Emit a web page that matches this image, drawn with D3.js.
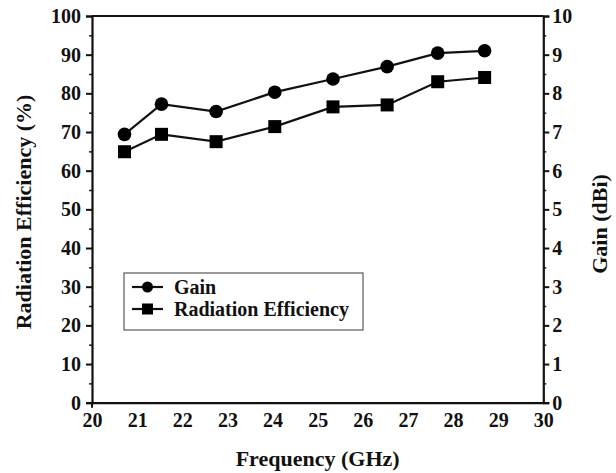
<!DOCTYPE html>
<html>
<head>
<meta charset="utf-8">
<script src="https://cdn.jsdelivr.net/npm/d3@7"></script>
<style>
  html, body { margin: 0; padding: 0; background: #fff; }
  svg { display: block; }
  text { font-family: "Liberation Serif", "Times New Roman", serif; font-weight: bold; fill: #111; }
</style>
</head>
<body>
<svg id="chart" width="616" height="473"></svg>
<script>
// Measured frequencies (GHz)
const frequency = [20.72, 21.54, 22.75, 24.05, 25.34, 26.54, 27.66, 28.70];
// Peak gain (dBi), right axis
const gain = [6.94, 7.72, 7.53, 8.03, 8.37, 8.69, 9.04, 9.10];
// Radiation efficiency (%), left axis
const efficiency = [64.9, 69.4, 67.5, 71.4, 76.5, 77.0, 83.0, 84.1];

const xTicks = [20, 21, 22, 23, 24, 25, 26, 27, 28, 29, 30];
const effTicks = [0, 10, 20, 30, 40, 50, 60, 70, 80, 90, 100];
const gainTicks = [0, 1, 2, 3, 4, 5, 6, 7, 8, 9, 10];

const svg = d3.select("#chart");
const m = { left: 92, right: 543.3, top: 16, bottom: 402.7 };

const x = d3.scaleLinear().domain([20, 30]).range([m.left, m.right]);
const yL = d3.scaleLinear().domain([0, 100]).range([m.bottom, m.top]);
const yR = d3.scaleLinear().domain([0, 10]).range([m.bottom, m.top]);

// Shared styling for tick labels
function styleLabels(g) {
  g.attr("font-family", "Liberation Serif").attr("font-weight", "bold").attr("font-size", 20);
  g.selectAll("text").attr("fill", "#111");
}

// Top frame line
svg.append("line").attr("x1", m.left).attr("x2", m.right).attr("y1", m.top).attr("y2", m.top)
  .attr("stroke", "#111").attr("stroke-width", 2);

// Left axis: minor ticks every 5 %, major every 10 %
const leftMinor = d3.axisLeft(yL).tickValues(d3.range(5, 100, 10)).tickSize(3).tickFormat("");
svg.append("g").attr("transform", `translate(${m.left},0)`).call(leftMinor)
  .call(g => g.select(".domain").remove())
  .call(g => g.selectAll("line").attr("stroke", "#222").attr("stroke-width", 1.5));
const leftAxis = d3.axisLeft(yL).tickValues(effTicks).tickSize(6).tickPadding(5);
svg.append("g").attr("transform", `translate(${m.left},0)`).call(leftAxis)
  .call(g => g.select(".domain").attr("stroke", "#111").attr("stroke-width", 2.2))
  .call(g => g.selectAll(".tick line").attr("stroke", "#111").attr("stroke-width", 2))
  .call(styleLabels);

// Right axis: minor ticks every 0.5 dBi
const rightMinor = d3.axisRight(yR).tickValues(d3.range(0.5, 10, 1)).tickSize(3).tickFormat("");
svg.append("g").attr("transform", `translate(${m.right},0)`).call(rightMinor)
  .call(g => g.select(".domain").remove())
  .call(g => g.selectAll("line").attr("stroke", "#222").attr("stroke-width", 1.5));
const rightAxis = d3.axisRight(yR).tickValues(gainTicks).tickSize(6).tickPadding(3);
svg.append("g").attr("transform", `translate(${m.right},0)`).call(rightAxis)
  .call(g => g.select(".domain").attr("stroke", "#111").attr("stroke-width", 2.2))
  .call(g => g.selectAll(".tick line").attr("stroke", "#111").attr("stroke-width", 2))
  .call(styleLabels);

// Bottom axis
const bottomAxis = d3.axisBottom(x).tickValues(xTicks).tickSize(0).tickPadding(10);
svg.append("g").attr("transform", `translate(0,${m.bottom})`).call(bottomAxis)
  .call(g => g.select(".domain").attr("stroke", "#111").attr("stroke-width", 2.2))
  .call(styleLabels);
// short outward tick at the axis origin
svg.append("line").attr("x1", x(20)).attr("x2", x(20)).attr("y1", m.bottom).attr("y2", m.bottom + 5)
  .attr("stroke", "#111").attr("stroke-width", 2);

// Axis titles
svg.append("text").attr("x", (m.left + m.right) / 2).attr("y", 466)
  .attr("text-anchor", "middle").attr("font-size", 22).text("Frequency (GHz)");
svg.append("text").attr("transform", `translate(31,212) rotate(-90)`)
  .attr("text-anchor", "middle").attr("font-size", 22).text("Radiation Efficiency (%)");
svg.append("text").attr("transform", `translate(607,224) rotate(-90)`)
  .attr("text-anchor", "middle").attr("font-size", 22).text("Gain (dBi)");

// Series
const gainPts = frequency.map((f, i) => [x(f), yR(gain[i])]);
const effPts = frequency.map((f, i) => [x(f), yL(efficiency[i])]);
const line = d3.line();

svg.append("path").attr("d", line(gainPts)).attr("fill", "none")
  .attr("stroke", "#111").attr("stroke-width", 2.2);
svg.append("path").attr("d", line(effPts)).attr("fill", "none")
  .attr("stroke", "#111").attr("stroke-width", 2.2);

svg.selectAll("circle.gain").data(gainPts).join("circle").attr("class", "gain")
  .attr("cx", d => d[0]).attr("cy", d => d[1]).attr("r", 6.8).attr("fill", "#000");
const sq = 13;
svg.selectAll("rect.eff").data(effPts).join("rect").attr("class", "eff")
  .attr("x", d => d[0] - sq / 2).attr("y", d => d[1] - sq / 2)
  .attr("width", sq).attr("height", sq).attr("fill", "#000");

// Legend
const lg = svg.append("g");
lg.append("rect").attr("x", 124).attr("y", 273).attr("width", 239).attr("height", 57)
  .attr("fill", "#fff").attr("stroke", "#666").attr("stroke-width", 1.3);
const legendItems = [
  { label: "Gain", y: 287, shape: "circle" },
  { label: "Radiation Efficiency", y: 309, shape: "square" }
];
legendItems.forEach(it => {
  lg.append("line").attr("x1", 132).attr("x2", 163).attr("y1", it.y).attr("y2", it.y)
    .attr("stroke", "#111").attr("stroke-width", 2.2);
  if (it.shape === "circle") {
    lg.append("circle").attr("cx", 147.5).attr("cy", it.y).attr("r", 5.5).attr("fill", "#000");
  } else {
    lg.append("rect").attr("x", 147.5 - 5.5).attr("y", it.y - 5.5).attr("width", 11).attr("height", 11).attr("fill", "#000");
  }
  lg.append("text").attr("x", 174).attr("y", it.y).attr("dy", "0.35em")
    .attr("font-size", 20).text(it.label);
});
</script>
</body>
</html>
